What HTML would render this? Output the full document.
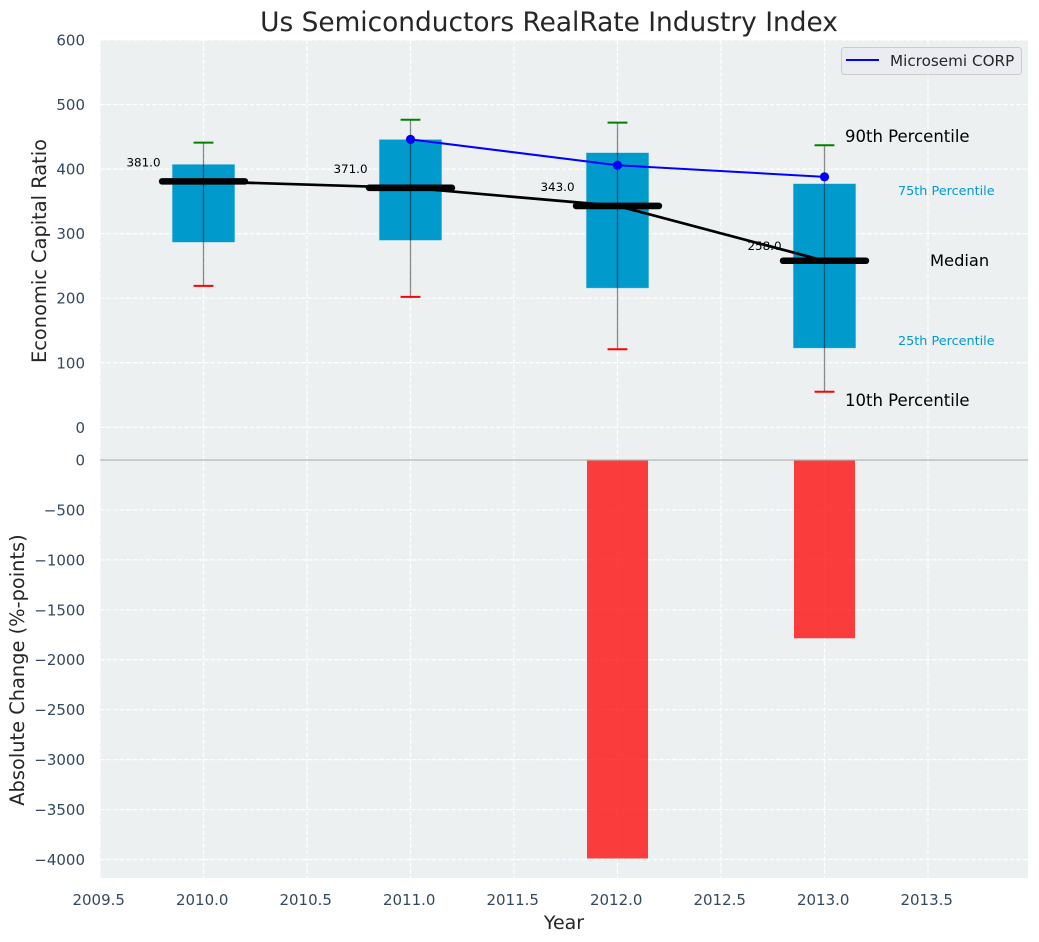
<!DOCTYPE html>
<html>
<head>
<meta charset="utf-8">
<title>Us Semiconductors RealRate Industry Index</title>
<style>
html,body{margin:0;padding:0;background:#fff;}
body{width:1039px;height:942px;overflow:hidden;}
svg{display:block;font-family:"DejaVu Sans","Liberation Sans",sans-serif;}
</style>
</head>
<body>
<svg id="chart" xmlns="http://www.w3.org/2000/svg" width="1039" height="942" viewBox="0 0 1039 942">
  <rect x="100" y="40" width="928" height="419" fill="#ecf0f1"/>
  <rect x="100" y="460" width="928" height="418" fill="#ecf0f1"/>
  <g id="grid"></g>
  <g id="marks"></g>
  <g id="ticks"></g>
  <text x="549" y="31" text-anchor="middle" font-size="26.4" fill="#262626">Us Semiconductors RealRate Industry Index</text>
  <text transform="translate(46 251) rotate(-90)" text-anchor="middle" font-size="19.4" fill="#262626">Economic Capital Ratio</text>
  <text transform="translate(24 670) rotate(-90)" text-anchor="middle" font-size="19.4" fill="#262626">Absolute Change (%-points)</text>
  <text x="564" y="929" text-anchor="middle" font-size="19" fill="#262626">Year</text>
  <text x="845" y="142" font-size="16.5" fill="#000">90th Percentile</text>
  <text x="898" y="195" font-size="12.8" fill="#009acd">75th Percentile</text>
  <text x="930" y="266" font-size="16.3" fill="#000">Median</text>
  <text x="898" y="345" font-size="12.8" fill="#009acd">25th Percentile</text>
  <text x="845" y="406" font-size="16.5" fill="#000">10th Percentile</text>
  <g>
    <rect x="841.5" y="47.5" width="180" height="27" rx="3" fill="#eaecf1" stroke="#cccccc" stroke-width="1"/>
    <line x1="846" y1="60" x2="879" y2="60" stroke="#0000ff" stroke-width="2"/>
    <text x="890" y="66" font-size="15.2" fill="#262626">Microsemi CORP</text>
  </g>
</svg>
<script>
const years = [2010, 2011, 2012, 2013];
const p10 = [219, 202, 121, 55];
const p25 = [287, 290, 216, 123];
const medians = [381, 371, 343, 258];
const p75 = [407, 445.5, 425, 377];
const p90 = [441, 476.5, 472, 437];
const companyYears = [2011, 2012, 2013];
const companyValues = [446, 406, 388];
const changeYears = [2012, 2013];
const changeValues = [-3990, -1785];
const xTicks = [2009.5, 2010, 2010.5, 2011, 2011.5, 2012, 2012.5, 2013, 2013.5];
const topYTicks = [0, 100, 200, 300, 400, 500, 600];
const bottomYTicks = [0, -500, -1000, -1500, -2000, -2500, -3000, -3500, -4000];

const NS = 'http://www.w3.org/2000/svg';
const gridG = document.getElementById('grid');
const marksG = document.getElementById('marks');
const ticksG = document.getElementById('ticks');

function xScale(v) { return 100 + (v - 2009.5) * 207; }
function yTop(v) { return 427.3 - v * 0.6455; }
function yBottom(v) { return 460 + v * -0.09987; }

function make(tag, parent, attrs) {
  const el = document.createElementNS(NS, tag);
  for (const k in attrs) el.setAttribute(k, attrs[k]);
  parent.appendChild(el);
  return el;
}
function fmtY(v) { return v < 0 ? '\u2212' + Math.abs(v) : String(v); }

xTicks.forEach(function (t) {
  const x = xScale(t);
  const g1 = make('line', gridG, {x1: x, x2: x, y1: 40, y2: 459, stroke: '#ffffff', 'stroke-width': 1.2, 'stroke-dasharray': '4.5 2'});
  
  
  const g2 = make('line', gridG, {x1: x, x2: x, y1: 460, y2: 878, stroke: '#ffffff', 'stroke-width': 1.2, 'stroke-dasharray': '4.5 2'});
  
  
  const lab = make('text', ticksG, {x: x - 1.3, y: 905, 'text-anchor': 'middle', 'font-size': 15, fill: '#34495e'});
  lab.textContent = t.toFixed(1);
  
  
});

topYTicks.forEach(function (t) {
  const y = yTop(t);
  const g = make('line', gridG, {x1: 100, x2: 1028, y1: y, y2: y, stroke: '#ffffff', 'stroke-width': 1.2, 'stroke-dasharray': '4.5 2'});
  
  
  const lab = make('text', ticksG, {x: 85, y: y + 5.5, 'text-anchor': 'end', 'font-size': 15, fill: '#34495e'});
  lab.textContent = fmtY(t);
  
  
});

bottomYTicks.forEach(function (t) {
  const y = yBottom(t);
  const g = make('line', gridG, {x1: 100, x2: 1028, y1: y, y2: y, stroke: '#ffffff', 'stroke-width': 1.2, 'stroke-dasharray': '4.5 2'});
  
  
  const lab = make('text', ticksG, {x: 85, y: y + 5.5, 'text-anchor': 'end', 'font-size': 15, fill: '#34495e'});
  lab.textContent = fmtY(t);
  
  
});

const boxHalf = 0.15 * 207;
const capHalf = 0.048 * 207;
const medianHalf = 0.2 * 207;

years.forEach(function (yr, i) {
  const x = xScale(yr);
  const box = make('rect', marksG, {x: x - boxHalf, y: yTop(p75[i]), width: boxHalf * 2, height: yTop(p25[i]) - yTop(p75[i]), fill: '#009acd', stroke: '#009acd', 'stroke-opacity': 0.3, 'stroke-width': 1});
  
  
  const w = make('line', marksG, {x1: x, x2: x, y1: yTop(p90[i]), y2: yTop(p10[i]), stroke: '#000000', 'stroke-opacity': 0.45, 'stroke-width': 1.3});
  
  
  const c1 = make('line', marksG, {x1: x - capHalf, x2: x + capHalf, y1: yTop(p90[i]), y2: yTop(p90[i]), stroke: '#008000', 'stroke-width': 2});
  
  
  const c2 = make('line', marksG, {x1: x - capHalf, x2: x + capHalf, y1: yTop(p10[i]), y2: yTop(p10[i]), stroke: '#ff0000', 'stroke-width': 2});
  
  
  const lift = i === years.length - 1 ? 11 : 15;
  const lab = make('text', marksG, {x: x - 60, y: yTop(medians[i]) - lift, 'text-anchor': 'middle', 'font-size': 11.9, fill: '#000000'});
  lab.textContent = medians[i].toFixed(1);
  
  
});

const medianLine = make('polyline', marksG, {points: years.map(function (yr, i) { return xScale(yr) + ',' + yTop(medians[i]); }).join(' '), fill: 'none', stroke: '#000000', 'stroke-width': 2.7});



years.forEach(function (yr, i) {
  const x = xScale(yr);
  const m = make('line', marksG, {x1: x - medianHalf, x2: x + medianHalf, y1: yTop(medians[i]), y2: yTop(medians[i]), stroke: '#000000', 'stroke-width': 6.6, 'stroke-linecap': 'round'});
  
  
});

const companyLine = make('polyline', marksG, {points: companyYears.map(function (yr, i) { return xScale(yr) + ',' + yTop(companyValues[i]); }).join(' '), fill: 'none', stroke: '#0000ff', 'stroke-width': 2});



companyYears.forEach(function (yr, i) {
  const p = make('circle', marksG, {cx: xScale(yr), cy: yTop(companyValues[i]), r: 4.6, fill: '#0000ff'});
  
  
});

changeYears.forEach(function (yr, i) {
  const x = xScale(yr);
  const b = make('rect', marksG, {x: x - 30.5, y: yBottom(0), width: 61, height: yBottom(changeValues[i]) - yBottom(0), fill: '#ff0000', 'fill-opacity': 0.75});
  
  
});

const zero = make('line', marksG, {x1: 100, x2: 1028, y1: yBottom(0), y2: yBottom(0), stroke: '#b0b0b0', 'stroke-width': 1.3});


</script>
</body>
</html>
